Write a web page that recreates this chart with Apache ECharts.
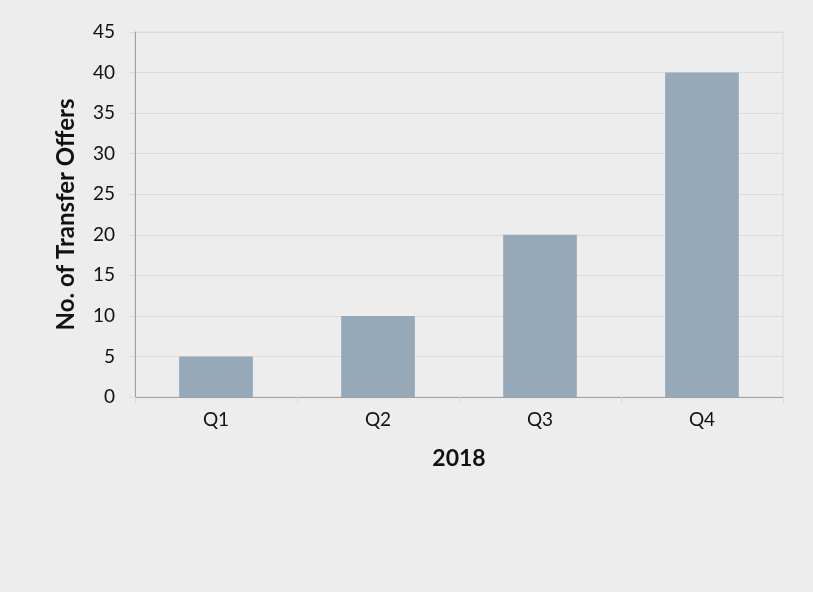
<!DOCTYPE html>
<html>
<head>
<meta charset="utf-8">
<style>
  html, body { margin: 0; padding: 0; background: #ededed; }
  #chart { width: 813px; height: 592px; }
</style>
<script src="https://cdn.jsdelivr.net/npm/echarts@6/dist/echarts.min.js"></script>
</head>
<body>
<div id="chart"></div>
<script>
// Quarterly transfer offers, 2018
const quarters = ['Q1', 'Q2', 'Q3', 'Q4'];
const transferOffers = [5, 10, 20, 40];
const yAxisTitle = 'No. of Transfer Offers';
const xAxisTitle = '2018';

const FONT = 'Lato, "Open Sans", sans-serif';

const chart = echarts.init(document.getElementById('chart'), null, { renderer: 'canvas' });
chart.setOption({
  backgroundColor: '#ededed',
  animation: false,
  grid: {
    left: 135, right: 30, top: 32, bottom: 195,
    show: true, borderColor: '#dadada', borderWidth: 1, backgroundColor: 'transparent'
  },
  xAxis: {
    type: 'category',
    data: quarters,
    name: xAxisTitle,
    nameLocation: 'middle',
    nameGap: 50,
    nameTextStyle: { fontFamily: FONT, fontSize: 23, fontWeight: 'bold', color: '#111' },
    axisLine: { lineStyle: { color: '#a0a0a0', width: 1 } },
    axisTick: { show: true, alignWithLabel: false, length: 6, lineStyle: { color: '#dadada' } },
    axisLabel: { fontFamily: FONT, fontSize: 19, color: '#111', margin: 13 },
    splitLine: { show: false }
  },
  yAxis: {
    type: 'value',
    min: 0, max: 45, interval: 5,
    name: yAxisTitle,
    nameLocation: 'middle',
    nameGap: 57,
    nameTextStyle: { fontFamily: FONT, fontSize: 24, fontWeight: 'bold', color: '#111' },
    axisLine: { show: true, lineStyle: { color: '#a0a0a0', width: 1 } },
    axisTick: { show: true, length: 6, lineStyle: { color: '#dadada' } },
    axisLabel: { fontFamily: FONT, fontSize: 19, color: '#111', margin: 20 },
    splitLine: { show: true, lineStyle: { color: '#dadada', width: 1 } }
  },
  series: [{
    type: 'bar',
    data: transferOffers,
    barWidth: '45.5%',
    itemStyle: { color: '#95a9b9' }
  }]
});
</script>
</body>
</html>
